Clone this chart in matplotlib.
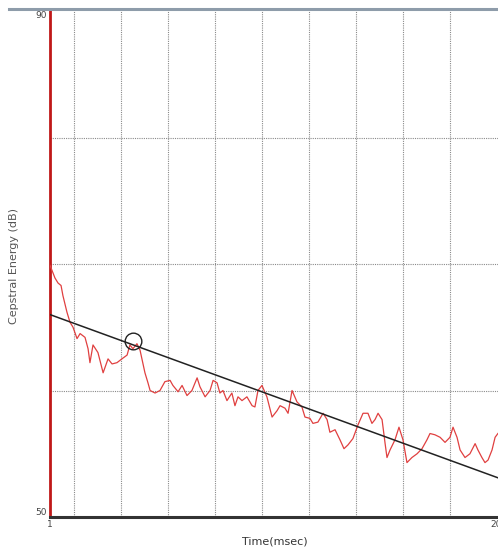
import matplotlib
matplotlib.use("Agg")
import matplotlib.pyplot as plt
from matplotlib.lines import Line2D

# ---------------------------------------------------------------------------------------------------------------------
# DATA
# ---------------------------------------------------------------------------------------------------------------------
time_ms = [1.00, 1.21, 1.34, 1.47, 1.55, 1.72, 1.85, 1.98, 2.15, 2.28, 2.49, 2.62, 2.70, 2.83, 3.04, 3.26,
           3.47, 3.64, 3.85, 4.06, 4.28, 4.40, 4.53, 4.70, 4.83, 5.04, 5.17, 5.26, 5.47, 5.68, 5.89, 6.11,
           6.23, 6.45, 6.62, 6.83, 7.04, 7.26, 7.38, 7.60, 7.81, 7.94, 8.11, 8.23, 8.36, 8.53, 8.74, 8.87,
           9.00, 9.17, 9.38, 9.60, 9.72, 9.85, 10.02, 10.23, 10.45, 10.66, 10.79, 11.00, 11.13, 11.30, 11.51,
           11.72, 11.85, 12.06, 12.19, 12.40, 12.62, 12.79, 12.91, 13.13, 13.34, 13.51, 13.68, 13.89, 14.11,
           14.32, 14.53, 14.70, 14.83, 14.96, 15.13, 15.26, 15.34, 15.47, 15.68, 15.85, 16.02, 16.19, 16.40,
           16.62, 16.83, 17.04, 17.17, 17.38, 17.60, 17.81, 18.02, 18.15, 18.32, 18.45, 18.66, 18.87, 19.09,
           19.21, 19.38, 19.51, 19.64, 19.81, 19.94, 20.06]
energy_db = [69.9, 68.9, 68.5, 68.3, 67.5, 66.2, 65.4, 65.0, 64.1, 64.5, 64.2, 63.3, 62.2, 63.6, 63.0, 61.4,
             62.5, 62.1, 62.2, 62.5, 62.8, 63.6, 63.3, 63.7, 63.2, 61.4, 60.6, 60.0, 59.8, 60.0, 60.7, 60.8,
             60.4, 59.9, 60.4, 59.6, 60.0, 61.0, 60.3, 59.5, 60.0, 60.8, 60.6, 59.8, 60.0, 59.2, 59.8, 58.8,
             59.5, 59.2, 59.5, 58.8, 58.7, 60.0, 60.4, 59.5, 57.9, 58.4, 58.8, 58.6, 58.2, 60.0, 59.1,
             58.7, 57.9, 57.8, 57.4, 57.5, 58.2, 57.7, 56.7, 56.9, 56.1, 55.4, 55.7, 56.2, 57.3,
             58.2, 58.2, 57.4, 57.7, 58.2, 57.7, 55.8, 54.7, 55.3, 56.1, 57.1, 56.1, 54.3, 54.7,
             55.0, 55.4, 56.1, 56.6, 56.5, 56.3, 55.9, 56.3, 57.1, 56.3, 55.3, 54.7, 55.0, 55.8,
             55.3, 54.7, 54.3, 54.5, 55.3, 56.3, 56.6]

# regression line end points and the marked point
fit_t = [1.0, 20.06]
fit_db = [66.0, 53.1]
mark_t = [4.53]
mark_db = [63.9]

Y_MIN, Y_MAX = 50, 90
X_MIN, X_MAX = 1, 22
GRID_X = [2, 4, 6, 8, 10, 12, 14, 16, 18]
GRID_Y = [60, 70, 80]

# ---------------------------------------------------------------------------------------------------------------------
# PLOT
# ---------------------------------------------------------------------------------------------------------------------
fig = plt.figure(figsize=(4.98, 5.51), dpi=100)
fig.patch.set_facecolor('white')

ax = fig.add_axes([50 / 498, 34 / 551, 493.5 / 498, 506 / 551])
ax.set_xlim(X_MIN, X_MAX)
ax.set_ylim(Y_MIN, Y_MAX)

# dotted grid
for gx in GRID_X:
    ax.axvline(gx, color='#8a8a8a', lw=0.8, ls=(0, (1, 1)), zorder=1)
for gy in GRID_Y:
    ax.axhline(gy, color='#8a8a8a', lw=0.8, ls=(0, (1, 1)), zorder=1)

ax.plot(time_ms, energy_db, color='#e04040', lw=0.9, zorder=3)
ax.plot(fit_t, fit_db, color='#222222', lw=1.1, zorder=4)
ax.plot(mark_t, mark_db, 'o', mfc='none', mec='#222222', mew=1.0, ms=12, zorder=5)

# spines
for s in ['top', 'right']:
    ax.spines[s].set_visible(False)
ax.spines['left'].set_color('#c01818')
ax.spines['left'].set_linewidth(2.0)
ax.spines['bottom'].set_color('#333333')
ax.spines['bottom'].set_linewidth(2.2)

# ticks: only end labels
ax.set_yticks([Y_MIN, Y_MAX])
ax.set_yticklabels(['50', '90'], fontsize=6.5, color='#444444')
ylabs = ax.get_yticklabels()
ylabs[0].set_va('bottom')
ylabs[1].set_va('top')
ax.set_xticks([1, 20])
ax.set_xticklabels(['1', '20'], fontsize=6.5, color='#444444')
ax.tick_params(length=0, pad=2)

# axis titles
fig.text(275 / 498, 1 - 541 / 551, 'Time(msec)', ha='center', va='center',
         fontsize=8, color='#333333')
fig.text(14 / 498, 1 - 266 / 551, 'Cepstral Energy (dB)', ha='center', va='center',
         rotation=90, fontsize=8, color='#555555')

# window border at the top
fig.add_artist(Line2D([9 / 498, 1.0], [1 - 9 / 551, 1 - 9 / 551], color='#8e9caa', lw=2.2))

fig.savefig('out.png', dpi=100)
